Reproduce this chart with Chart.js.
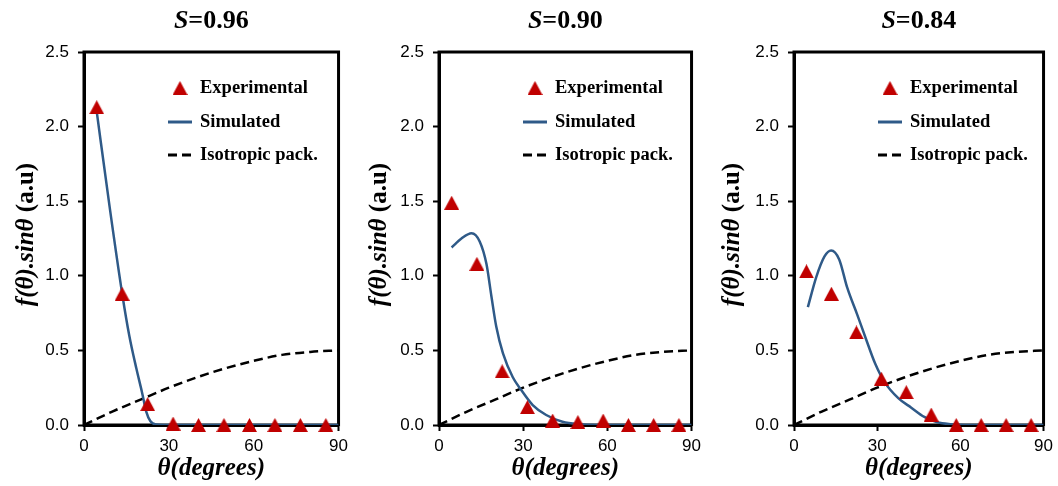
<!DOCTYPE html>
<html>
<head>
<meta charset="utf-8">
<script src="https://cdn.jsdelivr.net/npm/chart.js@4.4.1/dist/chart.umd.min.js"></script>
<style>
  html, body { margin: 0; padding: 0; background: #fff; }
  #wrap { position: relative; width: 1058px; height: 486px; }
  .panel { position: absolute; top: 0; height: 486px; }
</style>
</head>
<body>
<div id="wrap">
  <div class="panel" style="left:0;width:353px"><canvas id="c1"></canvas></div>
  <div class="panel" style="left:353px;width:353px"><canvas id="c2"></canvas></div>
  <div class="panel" style="left:706px;width:352px"><canvas id="c3"></canvas></div>
</div>
<script>
// bin centres of the measured angles (degrees)
const angles = [4.5, 13.5, 22.5, 31.5, 40.5, 49.5, 58.5, 67.5, 76.5, 85.5];

// experimental f(theta).sin(theta)
const exp096 = [2.13, 0.88, 0.14, 0.01, 0, 0, 0, 0, 0, 0];
const exp090 = [1.49, 1.08, 0.36, 0.12, 0.03, 0.02, 0.03, 0, 0, 0];
const exp084 = [1.03, 0.88, 0.62, 0.31, 0.22, 0.07, 0, 0, 0, 0];

// simulated curves
const simX096 = [4.5, 9, 13.5, 16, 18.5, 20.5, 22, 23.5, 25.5, 28, 32, 90];
const simY096 = [2.10, 1.47, 0.88, 0.60, 0.38, 0.22, 0.09, 0.025, 0.003, 0, 0, 0];
const simX090 = [4.5, 8, 11.6, 14.5, 16.9, 18.7, 20.4, 22.8, 26.3, 29.3, 33.4, 38.2, 44, 50, 56, 90];
const simY090 = [1.19, 1.25, 1.285, 1.23, 1.08, 0.86, 0.66, 0.48, 0.32, 0.235, 0.134, 0.067, 0.022, 0.005, 0, 0];
const simX084 = [5, 8, 11, 13.4, 16.3, 19.2, 22.8, 25.8, 29.3, 32.8, 37.6, 42.3, 47, 51.7, 56.4, 62, 90];
const simY084 = [0.79, 0.99, 1.13, 1.17, 1.11, 0.92, 0.74, 0.585, 0.41, 0.284, 0.18, 0.116, 0.054, 0.018, 0.005, 0, 0];

// isotropic packing reference curve
const isoX = [0, 10, 20, 30, 40, 50, 60, 70, 80, 90];
const isoY = [0, 0.09, 0.17, 0.25, 0.32, 0.38, 0.43, 0.47, 0.49, 0.50];

const sValues = ['0.96', '0.90', '0.84'];
const seriesNames = ['Experimental', 'Simulated', 'Isotropic pack.'];

const RED = '#c00000';
const BLUE = '#2f5a88';
const SERIF = '"Liberation Serif", "Times New Roman", serif';
const SANS = '"Liberation Sans", Arial, sans-serif';

// triangle marker centred in its box (like Excel)
const tri = document.createElement('canvas');
tri.width = 15; tri.height = 14;
(function () {
  const c = tri.getContext('2d');
  c.fillStyle = RED;
  c.beginPath();
  c.moveTo(7.5, 0); c.lineTo(15, 14); c.lineTo(0, 14); c.closePath();
  c.fill();
})();

const pts = (xs, ys) => xs.map((x, i) => ({ x: x, y: ys[i] }));

const decorations = {
  id: 'decorations',
  beforeDatasetsDraw(chart) {
    const { ctx, chartArea: a } = chart;
    ctx.save();
    ctx.strokeStyle = '#000';
    ctx.lineWidth = 3;
    ctx.strokeRect(a.left, a.top, a.right - a.left, a.bottom - a.top);
    ctx.restore();
  },
  afterDraw(chart) {
    const { ctx, chartArea: a } = chart;
    const o = chart.options.plugins.decorations;
    const cx = (a.left + a.right) / 2;
    ctx.save();
    ctx.fillStyle = '#000';
    ctx.textBaseline = 'middle';

    // panel title: S=0.96
    ctx.font = 'italic bold 26px ' + SERIF;
    const w1 = ctx.measureText('S').width;
    ctx.font = 'bold 26px ' + SERIF;
    const rest = '=' + o.s;
    const w2 = ctx.measureText(rest).width;
    let x0 = cx - (w1 + w2) / 2;
    ctx.textAlign = 'left';
    ctx.font = 'italic bold 26px ' + SERIF;
    ctx.fillText('S', x0, 21);
    ctx.font = 'bold 26px ' + SERIF;
    ctx.fillText(rest, x0 + w1, 21);

    // x title
    ctx.textAlign = 'center';
    ctx.font = 'italic bold 25px ' + SERIF;
    ctx.fillText('\u03b8(degrees)', cx, 469);

    // y title
    ctx.save();
    ctx.translate(27, (a.top + a.bottom) / 2 - 4);
    ctx.rotate(-Math.PI / 2);
    const p1 = 'f(\u03b8).sin\u03b8 ', p2 = '(a.u)';
    ctx.font = 'italic bold 25px ' + SERIF;
    const q1 = ctx.measureText(p1).width;
    ctx.font = 'bold 25px ' + SERIF;
    const q2 = ctx.measureText(p2).width;
    ctx.textAlign = 'left';
    ctx.font = 'italic bold 25px ' + SERIF;
    ctx.fillText(p1, -(q1 + q2) / 2, 0);
    ctx.font = 'bold 25px ' + SERIF;
    ctx.fillText(p2, -(q1 + q2) / 2 + q1, 0);
    ctx.restore();

    // legend
    ctx.font = 'bold 18.5px ' + SERIF;
    ctx.textAlign = 'left';
    const rows = [36, 70, 103];
    chart.data.datasets.forEach((ds, i) => {
      const y = a.top + rows[i];
      if (i === 0) {
        ctx.drawImage(tri, a.left + 96 - 7.5, y - 7);
      } else {
        ctx.save();
        ctx.strokeStyle = ds.borderColor;
        ctx.lineWidth = 3;
        ctx.setLineDash(ds.borderDash || []);
        ctx.beginPath();
        ctx.moveTo(a.left + 84, y);
        ctx.lineTo(a.left + 108, y);
        ctx.stroke();
        ctx.restore();
      }
      ctx.fillText(ds.label, a.left + 116, y);
    });
    ctx.restore();
  }
};

function makePanel(id, s, expY, simX, simY, leftW, rightPad) {
  return new Chart(document.getElementById(id), {
    type: 'scatter',
    data: {
      datasets: [
        {
          label: seriesNames[0],
          data: pts(angles, expY),
          pointStyle: tri,
          pointRadius: 7,
          clip: false,
          showLine: false
        },
        {
          label: seriesNames[1],
          data: pts(simX, simY),
          showLine: true,
          borderColor: BLUE,
          borderWidth: 2.5,
          pointRadius: 0,
          cubicInterpolationMode: 'monotone'
        },
        {
          label: seriesNames[2],
          data: pts(isoX, isoY),
          showLine: true,
          borderColor: '#000',
          borderWidth: 2.5,
          borderDash: [9, 5],
          pointRadius: 0,
          cubicInterpolationMode: 'monotone'
        }
      ]
    },
    options: {
      responsive: true,
      maintainAspectRatio: false,
      animation: false,
      layout: { padding: { top: 52, right: rightPad, left: 0, bottom: 0 } },
      plugins: {
        legend: { display: false },
        tooltip: { enabled: false },
        decorations: { s: s }
      },
      scales: {
        x: {
          type: 'linear',
          min: 0, max: 90,
          afterFit: sc => { sc.height = 61; },
          ticks: { stepSize: 30, padding: 5, color: '#000', font: { family: SANS, size: 17 } },
          grid: { drawOnChartArea: false, drawTicks: true, tickLength: 6, tickWidth: 2, color: '#000' },
          border: { display: true, width: 3, color: '#000' }
        },
        y: {
          min: 0, max: 2.5,
          afterFit: sc => { sc.width = leftW; },
          ticks: {
            stepSize: 0.5, padding: 9, color: '#000',
            font: { family: SANS, size: 17 },
            callback: v => v.toFixed(1)
          },
          grid: { drawOnChartArea: false, drawTicks: true, tickLength: 6, tickWidth: 2, color: '#000' },
          border: { display: true, width: 3, color: '#000' }
        }
      }
    },
    plugins: [decorations]
  });
}

makePanel('c1', sValues[0], exp096, simX096, simY096, 84, 13);
makePanel('c2', sValues[1], exp090, simX090, simY090, 86, 13);
makePanel('c3', sValues[2], exp084, simX084, simY084, 88, 10);
</script>
</body>
</html>
